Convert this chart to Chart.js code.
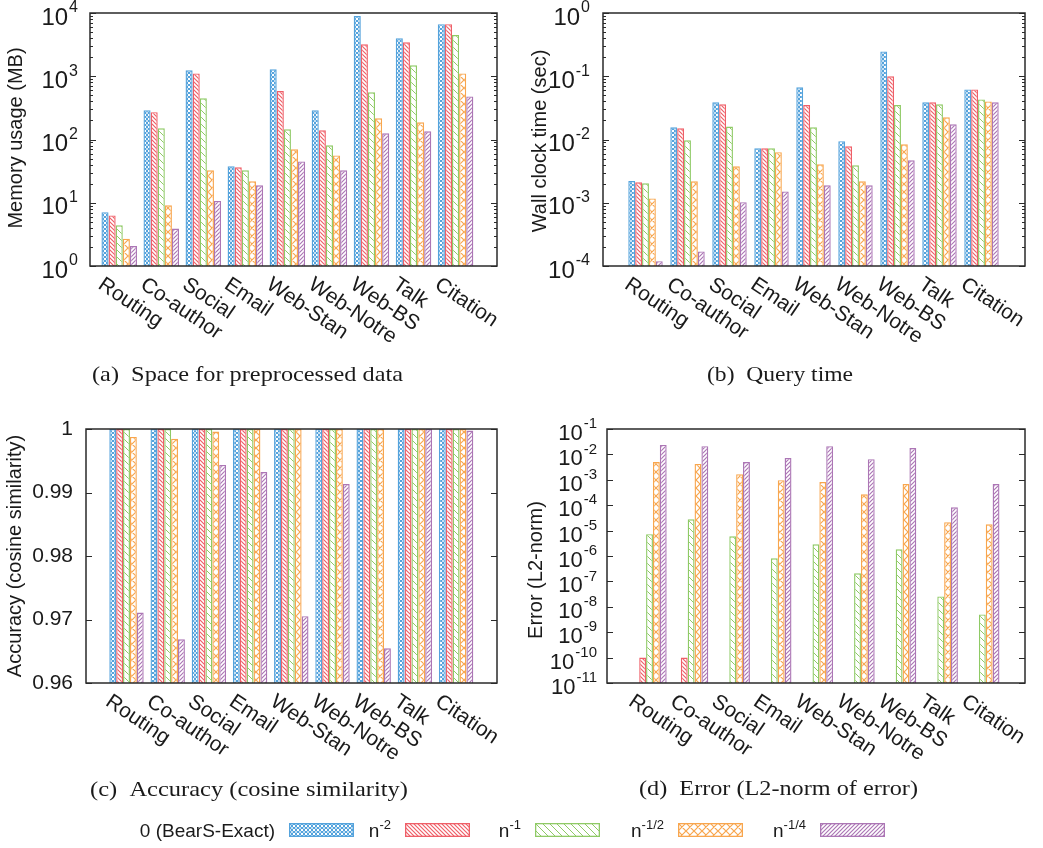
<!DOCTYPE html>
<html>
<head>
<meta charset="utf-8">
<script src="https://cdn.jsdelivr.net/npm/chart.js@4.4.1/dist/chart.umd.min.js"></script>
<style>
	body { margin: 0; background: #fff; width: 1043px; height: 848px; overflow: hidden; position: relative; font-family: "Liberation Sans", Arial, sans-serif; color: #1a1a1a; }
	canvas.layer { position: absolute; left: 0; top: 0; }
	.cap { position: absolute; font-family: "Liberation Serif", "Times New Roman", serif; font-size: 22px; white-space: nowrap; transform-origin: 0 50%; }
	.leg { position: absolute; font-size: 19px; white-space: nowrap; text-align: right; }
	.leg sup { font-size: 13px; vertical-align: 8px; line-height: 0; }
	.sw { position: absolute; }
</style>
</head>
<body>
<canvas id="chartMem" class="layer" width="1043" height="848"></canvas>
<canvas id="chartTime" class="layer" width="1043" height="848"></canvas>
<canvas id="chartAcc" class="layer" width="1043" height="848"></canvas>
<canvas id="chartErr" class="layer" width="1043" height="848"></canvas>
<div id="captions"></div>
<div id="legend"></div>
<script>
	// ===== DATA =====
	const categories = ['Routing', 'Co-author', 'Social', 'Email', 'Web-Stan', 'Web-Notre', 'Web-BS', 'Talk', 'Citation'];
	const seriesNames = ['0 (BearS-Exact)', 'n-2', 'n-1', 'n-1/2', 'n-1/4'];

	// (a) memory usage (MB)
	const memExact   = [7.1, 290, 1240, 37.7, 1290, 290, 8970, 3980, 6650];
	const memN2      = [6.3, 270, 1110, 36.3, 585, 140, 3200, 3440, 6650];
	const memN1      = [4.4, 150, 448, 32.6, 145, 81, 557, 1490, 4480];
	const memNHalf   = [2.7, 9.1, 32.6, 21.8, 70, 56, 216, 187, 1110];
	const memNQuart  = [2.07, 3.9, 10.7, 18.9, 45, 32.6, 125, 135, 480];

	// (b) query time (sec)
	const timeExact  = [0.0022, 0.0156, 0.0387, 0.00725, 0.067, 0.0094, 0.247, 0.0387, 0.062];
	const timeN2     = [0.0021, 0.015, 0.036, 0.00725, 0.035, 0.0078, 0.1, 0.0387, 0.062];
	const timeN1     = [0.00203, 0.0097, 0.016, 0.00725, 0.0156, 0.0039, 0.035, 0.036, 0.043];
	const timeNHalf  = [0.00117, 0.00218, 0.00377, 0.0063, 0.00405, 0.00218, 0.0084, 0.0224, 0.040];
	const timeNQuart = [0.000119, 0.00017, 0.00102, 0.00151, 0.00189, 0.00189, 0.0047, 0.0174, 0.0387];

	// (c) accuracy (cosine similarity)
	const accExact   = [1, 1, 1, 1, 1, 1, 1, 1, 1];
	const accN2      = [1, 1, 1, 1, 1, 1, 1, 1, 1];
	const accN1      = [1, 1, 1, 1, 1, 1, 1, 1, 1];
	const accNHalf   = [0.99875, 0.99848, 0.99959, 1, 1, 1, 1, 1, 1];
	const accNQuart  = [0.9711, 0.96689, 0.99434, 0.99323, 0.97052, 0.99134, 0.96547, 1, 0.99975];

	// (d) L2-norm of error (exact has zero error, nothing drawn)
	const errExact   = [null, null, null, null, null, null, null, null, null];
	const errN2      = [1e-10, 1e-10, null, null, null, null, null, null, null];
	const errN1      = [7.2e-6, 2.8e-5, 6e-6, 8.1e-7, 2.9e-6, 2.07e-7, 1.84e-6, 2.57e-8, 5e-9];
	const errNHalf   = [5e-3, 4.2e-3, 1.67e-3, 9.7e-4, 8.1e-4, 2.7e-4, 6.8e-4, 2.14e-5, 1.78e-5];
	const errNQuart  = [2.35e-2, 2.1e-2, 5e-3, 7.2e-3, 2.1e-2, 6.5e-3, 1.78e-2, 8.3e-5, 6.8e-4];

	// tick labels (exponents for log axes)
	const memTickExp  = [0, 1, 2, 3, 4];
	const timeTickExp = [-4, -3, -2, -1, 0];
	const accTicks    = ['0.96', '0.97', '0.98', '0.99', '1'];
	const errTickExp  = [-11, -10, -9, -8, -7, -6, -5, -4, -3, -2, -1];

	const colors  = ['#55a3dc', '#ef5f68', '#8fca66', '#f8a64e', '#ac76b5'];
	const hatches = ['check', 'back', 'backWide', 'cross', 'fwd'];

	const SANS = '"Liberation Sans", Arial, sans-serif';

	// ===== HATCH PATTERNS =====
	function makeTile(kind, color) {
		const s = { check: 4, back: 4, backWide: 7, cross: 8, fwd: 4 }[kind];
		const t = document.createElement('canvas');
		t.width = s; t.height = s;
		const g = t.getContext('2d');
		g.fillStyle = '#fff';
		g.fillRect(0, 0, s, s);
		g.strokeStyle = color;
		g.fillStyle = color;
		g.lineWidth = kind === 'backWide' ? 1 : 1.2;
		if (kind === 'check') {
			g.fillRect(0, 0, 2, 2);
			g.fillRect(2, 2, 2, 2);
			g.globalAlpha = 0.35;
			g.fillRect(2, 0, 2, 2);
		} else {
			g.beginPath();
			if (kind === 'back' || kind === 'backWide' || kind === 'cross') {
				g.moveTo(-1, -1); g.lineTo(s + 1, s + 1);
				g.moveTo(-1, s - 1); g.lineTo(1, s + 1);
				g.moveTo(s - 1, -1); g.lineTo(s + 1, 1);
			}
			if (kind === 'fwd' || kind === 'cross') {
				g.moveTo(-1, s + 1); g.lineTo(s + 1, -1);
				g.moveTo(-1, 1); g.lineTo(1, -1);
				g.moveTo(s - 1, s + 1); g.lineTo(s + 1, s - 1);
			}
			g.stroke();
		}
		return t;
	}

	const patCtx = document.createElement('canvas').getContext('2d');
	const patterns = hatches.map((h, i) => patCtx.createPattern(makeTile(h, colors[i]), 'repeat'));

	// ===== AXIS / FRAME PLUGIN =====
	function drawPow(ctx, xRight, y, exp, size) {
		const base = size + 'px ' + SANS;
		const sup = Math.round(size * 0.66) + 'px ' + SANS;
		ctx.textAlign = 'left';
		ctx.textBaseline = 'middle';
		ctx.font = sup;
		const ws = ctx.measureText(exp).width;
		ctx.fillText(exp, xRight - ws, y - 5);
		ctx.font = base;
		const wb = ctx.measureText('10').width;
		ctx.fillText('10', xRight - ws - wb - 1, y + 5);
	}

	const framePlugin = {
		id: 'frame',
		afterDraw(chart, args, opts) {
			const ctx = chart.ctx;
			const a = chart.chartArea;
			const xs = chart.scales.x;
			const ys = chart.scales.y;
			ctx.save();
			ctx.fillStyle = '#1a1a1a';
			ctx.strokeStyle = '#2a2a2a';

			// ticks inside, mirrored on the right
			ctx.lineWidth = 1;
			ctx.beginPath();
			opts.major.forEach(v => {
				const y = Math.round(ys.getPixelForValue(v)) + 0.5;
				ctx.moveTo(a.left, y); ctx.lineTo(a.left + 6, y);
				ctx.moveTo(a.right, y); ctx.lineTo(a.right - 6, y);
			});
			(opts.minor || []).forEach(v => {
				const y = Math.round(ys.getPixelForValue(v)) + 0.5;
				ctx.moveTo(a.left, y); ctx.lineTo(a.left + 3, y);
				ctx.moveTo(a.right, y); ctx.lineTo(a.right - 3, y);
			});
			ctx.stroke();

			// frame
			ctx.lineWidth = 1.5;
			ctx.strokeRect(a.left, a.top, a.right - a.left, a.bottom - a.top);

			// y tick labels
			opts.major.forEach((v, i) => {
				const y = ys.getPixelForValue(v);
				const lab = opts.labels[i];
				if (opts.pow) {
					drawPow(ctx, opts.labelRight, y, String(lab), opts.powSize);
				} else {
					ctx.font = '21px ' + SANS;
					ctx.textAlign = 'right';
					ctx.textBaseline = 'middle';
					ctx.fillText(lab, opts.labelRight, y);
				}
			});

			// rotated category labels
			ctx.font = '21px ' + SANS;
			ctx.textAlign = 'left';
			ctx.textBaseline = 'top';
			categories.forEach((c, i) => {
				const x = xs.getPixelForValue(i);
				ctx.save();
				ctx.translate(x - 13, a.bottom + 8);
				ctx.rotate(34 * Math.PI / 180);
				ctx.fillText(c, 0, 0);
				ctx.restore();
			});

			// y axis title
			ctx.save();
			ctx.font = '20px ' + SANS;
			ctx.textAlign = 'center';
			ctx.textBaseline = 'middle';
			ctx.translate(opts.titleX, opts.titleY);
			ctx.rotate(-Math.PI / 2);
			ctx.fillText(opts.title, 0, 0);
			ctx.restore();

			ctx.restore();
		}
	};

	function logMinors(lo, hi) {
		const out = [];
		for (let e = lo; e < hi; e++) {
			for (let m = 2; m <= 9; m++) out.push(m * Math.pow(10, e));
		}
		return out;
	}

	function makeChart(id, series, box, xRange, catPct, yAxis, frameOpts) {
		const datasets = series.map((vals, k) => ({
			label: seriesNames[k],
			data: vals.map((v, i) => ({ x: i, y: v })),
			backgroundColor: patterns[k],
			borderColor: colors[k],
			borderWidth: 1.4,
			borderSkipped: 'bottom',
			barPercentage: 1.0,
			categoryPercentage: catPct
		}));
		return new Chart(document.getElementById(id), {
			type: 'bar',
			data: { datasets: datasets },
			options: {
				responsive: false,
				animation: false,
				devicePixelRatio: 1,
				layout: {
					padding: { left: box.left, top: box.top, right: 1043 - box.right, bottom: 848 - box.bottom }
				},
				scales: {
					x: { type: 'linear', display: false, offset: false, min: xRange[0], max: xRange[1] },
					y: Object.assign({ display: false }, yAxis)
				},
				plugins: {
					legend: { display: false },
					tooltip: { enabled: false },
					frame: frameOpts
				}
			},
			plugins: [framePlugin]
		});
	}

	// (a)
	makeChart('chartMem', [memExact, memN2, memN1, memNHalf, memNQuart],
		{ left: 90, top: 13, right: 497, bottom: 266 }, [-0.695, 8.986], 0.845,
		{ type: 'logarithmic', min: 1, max: 10000 },
		{ major: memTickExp.map(e => Math.pow(10, e)), minor: logMinors(0, 4), labels: memTickExp, pow: true, powSize: 24,
		  labelRight: 78, title: 'Memory usage (MB)', titleX: 16, titleY: 138 });

	// (b)
	makeChart('chartTime', [timeExact, timeN2, timeN1, timeNHalf, timeNQuart],
		{ left: 603, top: 13, right: 1025, bottom: 266 }, [-1.012, 9.036], 0.82,
		{ type: 'logarithmic', min: 1e-4, max: 1 },
		{ major: timeTickExp.map(e => Math.pow(10, e)), minor: logMinors(-4, 0), labels: timeTickExp, pow: true, powSize: 24,
		  labelRight: 590, title: 'Wall clock time (sec)', titleX: 540, titleY: 141 });

	// (c)
	makeChart('chartAcc', [accExact, accN2, accN1, accNHalf, accNQuart],
		{ left: 86, top: 429, right: 497, bottom: 683 }, [-0.983, 8.993], 0.835,
		{ type: 'linear', min: 0.96, max: 1 },
		{ major: accTicks.map(Number), labels: accTicks, pow: false,
		  labelRight: 73, title: 'Accuracy (cosine similarity)', titleX: 15, titleY: 556 });

	// (d)
	makeChart('chartErr', [errExact, errN2, errN1, errNHalf, errNQuart],
		{ left: 607, top: 429, right: 1025, bottom: 683 }, [-1.022, 9.026], 0.825,
		{ type: 'logarithmic', min: 1e-11, max: 1e-1 },
		{ major: errTickExp.map(e => Math.pow(10, e)), labels: errTickExp, pow: true, powSize: 22,
		  labelRight: 597, title: 'Error (L2-norm)', titleX: 536, titleY: 570 });

	// ===== CAPTIONS =====
	const captionTexts = ['(a)\u2002Space for preprocessed data', '(b)\u2002Query time',
		'(c)\u2002Accuracy (cosine similarity)', '(d)\u2002Error (L2-norm of error)'];
	const captionBoxes = [[92, 374, 311], [707, 374, 146], [90, 789, 318], [639, 788, 279]];
	const capHolder = document.getElementById('captions');
	captionTexts.forEach((t, i) => {
		const d = document.createElement('div');
		d.className = 'cap';
		d.textContent = t;
		d.style.left = captionBoxes[i][0] + 'px';
		d.style.top = (captionBoxes[i][1] - 13) + 'px';
		capHolder.appendChild(d);
		const w = d.getBoundingClientRect().width;
		d.style.transform = 'scaleX(' + (captionBoxes[i][2] / w) + ')';
	});

	// ===== LEGEND =====
	const legendHtml = ['0 (BearS-Exact)', 'n<sup>-2</sup>', 'n<sup>-1</sup>', 'n<sup>-1/2</sup>', 'n<sup>-1/4</sup>'];
	const legendSwatchX = [289, 405, 535, 678, 820];
	const legHolder = document.getElementById('legend');
	legendHtml.forEach((h, i) => {
		const d = document.createElement('div');
		d.className = 'leg';
		d.innerHTML = h;
		d.style.right = (1043 - legendSwatchX[i] + 14) + 'px';
		d.style.top = '820px';
		legHolder.appendChild(d);

		const c = document.createElement('canvas');
		c.className = 'sw';
		c.width = 65; c.height = 14;
		c.style.left = legendSwatchX[i] + 'px';
		c.style.top = '823px';
		const g = c.getContext('2d');
		g.fillStyle = patterns[i];
		g.fillRect(0, 0, 65, 14);
		g.strokeStyle = colors[i];
		g.lineWidth = 1.3;
		g.strokeRect(0.65, 0.65, 63.7, 12.7);
		legHolder.appendChild(c);
	});
</script>
</body>
</html>
